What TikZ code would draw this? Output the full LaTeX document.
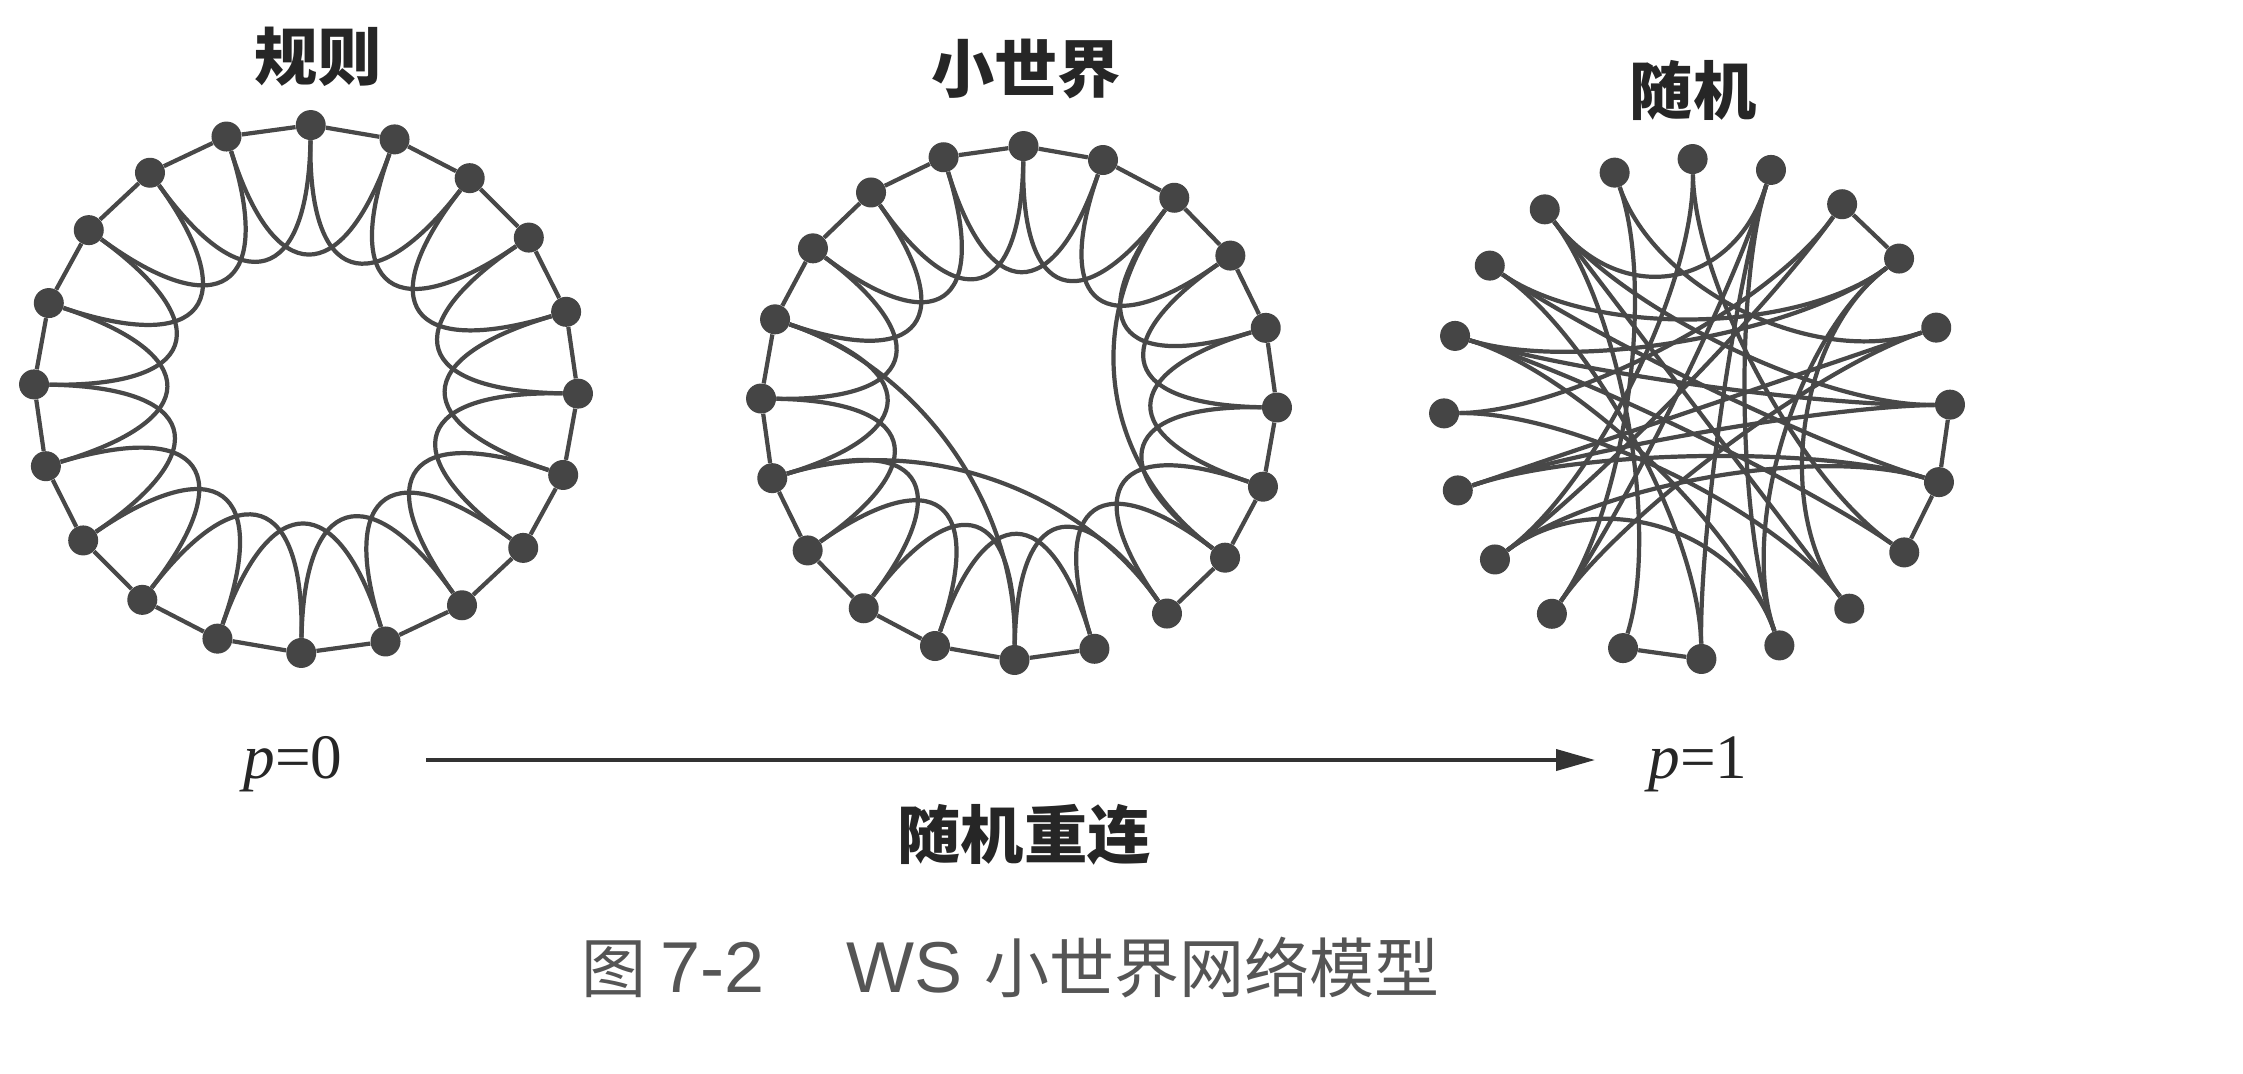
\documentclass[tikz,border=0pt]{standalone}
\usepackage{fontspec}
\newfontfamily\cjk{Noto Sans CJK SC}
\newfontfamily\tnr{Liberation Serif}
\newfontfamily\arl{Liberation Sans}
\usetikzlibrary{calc,arrows.meta}
\pgfdeclarelayer{bg}
\pgfsetlayers{bg,main}
\definecolor{edgecol}{HTML}{484848}
\definecolor{dotcol}{HTML}{454545}
\definecolor{capcol}{HTML}{555555}
\newcommand\wsedge[4]{\draw[edge] (#2) .. controls ($(#2)!#4!(#1)$) and ($(#3)!#4!(#1)$) .. (#3);}
\begin{document}
\begin{tikzpicture}[x=0.02cm,y=-0.02cm,
  dot/.style={circle,fill=dotcol,inner sep=0pt,minimum size=0.6cm},
  edge/.style={draw=edgecol,line width=2.4pt},
  title/.style={font=\cjk\bfseries\fontsize{36pt}{40pt}\selectfont,text=black!85,inner sep=0pt},
  ptext/.style={font=\tnr\fontsize{36pt}{40pt}\selectfont,text=black!85,inner sep=0pt},
  captext/.style={font=\cjk\fontsize{37pt}{40pt}\selectfont,text=capcol,inner sep=0pt,anchor=west,text height=0.8em,text depth=0.12em},
  caplat/.style={font=\arl\fontsize{41pt}{46pt}\selectfont,text=capcol,inner sep=0pt,anchor=west,text height=0.74em,text depth=0.11em}]
\useasboundingbox (0,0) rectangle (2243,1073);
\begin{pgfonlayer}{bg}
\fill[white] (0,0) rectangle (2243,1073);
\end{pgfonlayer}

% ---------- regular ring ----------
\coordinate (o1) at (306,389);
\foreach \k in {0,...,19}
  \node[dot] (a\k) at ({306+272*cos(89+18*\k)},{389-264*sin(89+18*\k)}) {};
\begin{pgfonlayer}{bg}
\foreach \k in {0,...,19} {
  \pgfmathtruncatemacro\n{mod(\k+1,20)}
  \pgfmathtruncatemacro\m{mod(\k+2,20)}
  \draw[edge] (a\k) -- (a\n);
  \wsedge{o1}{a\k}{a\m}{0.6}
}
\end{pgfonlayer}

% ---------- small world ----------
\coordinate (o2) at (1019,403);
\foreach \k in {0,...,19}
  \node[dot] (c\k) at ({1019+258*cos(89+18*\k)},{403-257*sin(89+18*\k)}) {};
\begin{pgfonlayer}{bg}
\foreach \k in {0,...,19} {
  \pgfmathtruncatemacro\n{mod(\k+1,20)}
  \pgfmathtruncatemacro\m{mod(\k+2,20)}
  \ifnum\k=11\relax\else\draw[edge] (c\k) -- (c\n);\fi
  \wsedge{o2}{c\k}{c\m}{0.6}
}
\wsedge{o2}{c4}{c10}{0.6}
\wsedge{o2}{c6}{c12}{0.6}
\wsedge{o2}{c18}{c13}{0.6}
\end{pgfonlayer}

% ---------- random ----------
\coordinate (o3) at (1697,409);
\foreach \k in {0,...,19}
  \node[dot] (r\k) at ({1697+253*cos(91+18*\k)},{409-250*sin(91+18*\k)}) {};
\begin{pgfonlayer}{bg}
\foreach \i/\j in {17/18,14/15,13/14,9/10}
  {\draw[edge] (r\i) -- (r\j);}
\foreach \i/\j in {0/7,0/13,1/16,1/8,2/19,2/9,2/12,2/15,3/17,3/10,3/14,4/17,4/13,4/11,4/15,5/18,5/12,6/15,6/14,6/16,7/11,7/18,7/14,8/19,8/16,10/19,11/19,11/17,12/17}
  {\wsedge{o3}{r\i}{r\j}{0.5}}
\end{pgfonlayer}

% ---------- titles ----------
\node[title] (t1) at (318,57) {规则};
\node[title] (t2) at (1026,69) {小世界};
\node[title] (t3) at (1693,90) {随机};

% ---------- arrow ----------
\node[ptext] (p0) at (293,764) {{\itshape p}=0};
\node[ptext] (p1) at (1698,764) {{\itshape p}=1};
\coordinate (arrS) at (426,760);
\coordinate (arrE) at (1595,760);
\draw[line width=2.2pt,draw=black!80,-{Triangle[length=0.78cm,width=0.42cm]}] (arrS) -- (arrE);
\node[title] (t4) at (1024,835) {随机重连};

% ---------- caption ----------
\node[captext] (cap1) at (581,987) {图};
\node[caplat] (cap2) at (660,987) {7-2};
\node[caplat] (cap3) at (846,987) {WS};
\node[captext] (cap4) at (984,987) {小世界网络模型};
\end{tikzpicture}
\end{document}
